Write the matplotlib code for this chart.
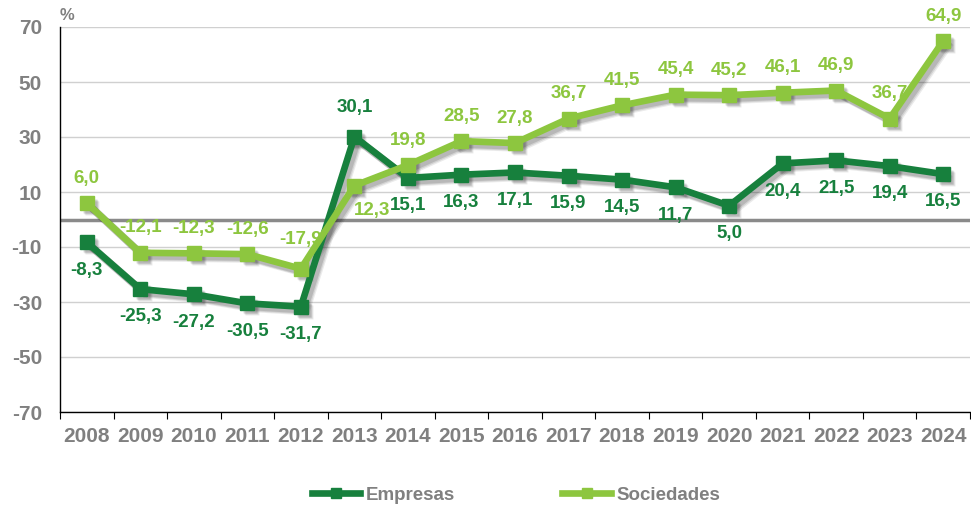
import matplotlib
matplotlib.use("Agg")
import matplotlib.pyplot as plt
import matplotlib.transforms as mtransforms
import numpy as np

years = ["2008", "2009", "2010", "2011", "2012", "2013", "2014", "2015", "2016",
         "2017", "2018", "2019", "2020", "2021", "2022", "2023", "2024"]
empresas = [-8.3, -25.3, -27.2, -30.5, -31.7, 30.1, 15.1, 16.3, 17.1, 15.9, 14.5,
            11.7, 5.0, 20.4, 21.5, 19.4, 16.5]
sociedades = [6.0, -12.1, -12.3, -12.6, -17.9, 12.3, 19.8, 28.5, 27.8, 36.7, 41.5,
              45.4, 45.2, 46.1, 46.9, 36.7, 64.9]
yticks = [-70, -50, -30, -10, 10, 30, 50, 70]

dark = "#17803d"
light = "#8dc63f"
gray = "#808080"

plt.rcParams['font.family'] = ['Liberation Sans', 'DejaVu Sans']
plt.rcParams['font.weight'] = 'bold'

fig = plt.figure(figsize=(9.71, 5.08), dpi=100)
ax = fig.add_axes([60/971, 1 - 412/508, 910/971, 385/508])

x = np.arange(len(years))
ax.set_xlim(-0.5, len(years) - 0.5)
ax.set_ylim(-70, 70)

for t in yticks:
    ax.axhline(t, color="#d0d0d0", lw=1.0, zorder=0)
ax.axhline(0, color="#8a8a8a", lw=2.5, zorder=1)

# drop shadows
for series in (empresas, sociedades):
    for off, a in [(3, 0.13), (4, 0.10), (5, 0.08)]:
        tr = mtransforms.offset_copy(ax.transData, fig=fig, x=off, y=-off, units="dots")
        ax.plot(x, series, color="black", alpha=a, lw=5.5, marker="s", ms=10,
                transform=tr, zorder=2, solid_joinstyle="miter", mec="none")

ax.plot(x, empresas, color=dark, lw=4.8, marker="s", ms=9.5, label="Empresas",
        zorder=3, solid_joinstyle="miter")
ax.plot(x, sociedades, color=light, lw=4.8, marker="s", ms=9.5, label="Sociedades",
        zorder=4, solid_joinstyle="miter")

def fmt(v):
    return f"{v:.1f}".replace(".", ",")

fs = 13.5
for i, v in enumerate(empresas):
    dx, dy = 0, -20
    if i == 5:
        dy = 21
    ax.annotate(fmt(v), (i, v), xytext=(dx, dy), textcoords="offset points",
                ha="center", va="center", color=dark, fontsize=fs, fontweight="bold",
                zorder=6)
for i, v in enumerate(sociedades):
    dx, dy = 0, 18
    if i == 5:
        dx, dy = 13, -18
    if i == 4:
        dx, dy = 0, 21
    ax.annotate(fmt(v), (i, v), xytext=(dx, dy), textcoords="offset points",
                ha="center", va="center", color=light, fontsize=fs, fontweight="bold",
                zorder=6)

ax.set_yticks(yticks)
ax.set_yticklabels([str(t) for t in yticks], color=gray, fontsize=15, fontweight="bold")
ax.tick_params(axis="y", length=0, pad=13)
ax.set_xticks(np.arange(-0.5, len(years), 1.0), minor=False)
ax.set_xticklabels([])
ax.set_xticks(x, minor=True)
ax.set_xticklabels(years, minor=True, color=gray, fontsize=15, fontweight="bold")
ax.tick_params(axis="x", which="major", length=5, direction="out", color="black")
ax.tick_params(axis="x", which="minor", length=0, pad=11)

for s in ["top", "right"]:
    ax.spines[s].set_visible(False)
ax.spines["left"].set_color("black")
ax.spines["bottom"].set_color("black")
ax.spines["left"].set_linewidth(1.0)
ax.spines["bottom"].set_linewidth(1.0)

fig.text(67/971, 1 - 15/508, "%", color=gray, fontsize=12, fontweight="bold",
         ha="center", va="center")

leg = fig.legend(loc="center", bbox_to_anchor=(516/971, 1 - 495/508), ncol=2,
                 frameon=False, columnspacing=5.7, handlelength=2.6, handletextpad=0.3,
                 prop={"size": fs, "weight": "bold"})
for t in leg.get_texts():
    t.set_color(gray)
for h in leg.legend_handles:
    h.set_markersize(7.5)

fig.savefig("out.png", dpi=100)
